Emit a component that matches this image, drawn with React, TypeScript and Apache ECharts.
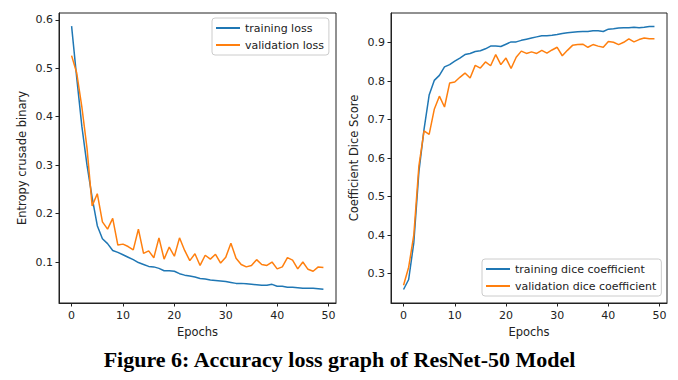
import React, { useEffect, useRef } from "react";
import * as echarts from "echarts";

const epochs: number[] = Array.from({ length: 50 }, (_, i) => i);

const trainingLoss: number[] = [
  0.587, 0.48, 0.38, 0.3, 0.233, 0.175, 0.148, 0.138, 0.124, 0.12,
  0.115, 0.11, 0.105, 0.099, 0.095, 0.091, 0.09, 0.087, 0.082, 0.082,
  0.081, 0.076, 0.073, 0.071, 0.069, 0.066, 0.065, 0.063, 0.062, 0.061,
  0.06, 0.058, 0.056, 0.056, 0.055, 0.054, 0.053, 0.052, 0.052, 0.054,
  0.05, 0.05, 0.048, 0.048, 0.047, 0.046, 0.046, 0.046, 0.045, 0.044,
];

const validationLoss: number[] = [
  0.526, 0.49, 0.42, 0.335, 0.216, 0.241, 0.183, 0.168, 0.19, 0.135,
  0.137, 0.132, 0.125, 0.168, 0.118, 0.123, 0.109, 0.15, 0.106, 0.131,
  0.112, 0.15, 0.124, 0.103, 0.117, 0.093, 0.114, 0.106, 0.116, 0.098,
  0.11, 0.139, 0.108, 0.095, 0.09, 0.093, 0.105, 0.095, 0.093, 0.1,
  0.086, 0.09, 0.109, 0.104, 0.086, 0.1, 0.085, 0.081, 0.09, 0.089,
];

const trainingDice: number[] = [
  0.259, 0.285, 0.38, 0.565, 0.675, 0.764, 0.802, 0.815, 0.837, 0.843,
  0.852, 0.86, 0.869, 0.872, 0.877, 0.879, 0.884, 0.891, 0.891, 0.89,
  0.896, 0.902, 0.902, 0.906, 0.909, 0.912, 0.915, 0.918, 0.918, 0.919,
  0.921, 0.924, 0.926, 0.927, 0.928, 0.929, 0.929, 0.931, 0.931, 0.929,
  0.935, 0.936, 0.938, 0.939, 0.939, 0.94, 0.939, 0.94, 0.942, 0.942,
];

const validationDice: number[] = [
  0.27, 0.317, 0.4, 0.58, 0.671, 0.662, 0.727, 0.761, 0.733, 0.795,
  0.798, 0.81, 0.821, 0.808, 0.841, 0.834, 0.85, 0.84, 0.869, 0.843,
  0.86, 0.833, 0.862, 0.878, 0.872, 0.876, 0.872, 0.88, 0.873, 0.881,
  0.888, 0.866, 0.88, 0.893, 0.895, 0.896, 0.888, 0.895, 0.891, 0.888,
  0.903, 0.901, 0.895, 0.901, 0.91, 0.902, 0.908, 0.912, 0.91, 0.91,
];

const xTicks: number[] = [0, 10, 20, 30, 40, 50];
const lossTicks: number[] = [0.1, 0.2, 0.3, 0.4, 0.5, 0.6];
const diceTicks: number[] = [0.3, 0.4, 0.5, 0.6, 0.7, 0.8, 0.9];

const BLUE = "#1f77b4";
const ORANGE = "#ff7f0e";
const AXIS = "#222";
const FONT = "DejaVu Sans";

function pairs(vals: number[]): number[][] {
  return epochs.map((e, i) => [e, vals[i]]);
}

function xAxisCfg(gridIndex: number) {
  return {
    type: "value",
    gridIndex,
    min: -2.45,
    max: 51.45,
    name: "Epochs",
    nameLocation: "middle",
    nameGap: 22,
    nameTextStyle: { fontFamily: FONT, fontSize: 11.5, color: AXIS },
    axisLine: { show: true, onZero: false, lineStyle: { color: AXIS, width: 1 } },
    axisTick: {
      show: true,
      length: 3.5,
      customValues: xTicks,
      lineStyle: { color: AXIS, width: 1 },
    },
    axisLabel: {
      customValues: xTicks,
      margin: 7,
      fontFamily: FONT,
      fontSize: 11,
      color: AXIS,
    },
    splitLine: { show: false },
  };
}

function yAxisCfg(gridIndex: number, name: string, min: number, max: number, ticks: number[]) {
  return {
    type: "value",
    gridIndex,
    min,
    max,
    name,
    nameLocation: "middle",
    nameGap: 31,
    nameTextStyle: { fontFamily: FONT, fontSize: 11.5, color: AXIS },
    axisLine: { show: true, onZero: false, lineStyle: { color: AXIS, width: 1 } },
    axisTick: {
      show: true,
      length: 3.5,
      customValues: ticks,
      lineStyle: { color: AXIS, width: 1 },
    },
    axisLabel: {
      customValues: ticks,
      margin: 6,
      fontFamily: FONT,
      fontSize: 11,
      color: AXIS,
      formatter: (v: number) => v.toFixed(1),
    },
    splitLine: { show: false },
  };
}

function legendCfg(names: string[], left: number, top: number) {
  return {
    data: names,
    orient: "vertical",
    left,
    top,
    icon: "rect",
    itemWidth: 24,
    itemHeight: 2,
    itemGap: 5,
    padding: [4, 5, 4, 4],
    borderColor: "#cccccc",
    borderWidth: 1,
    borderRadius: 3,
    backgroundColor: "rgba(255,255,255,0.8)",
    textStyle: { fontFamily: FONT, fontSize: 11, color: AXIS, lineHeight: 12 },
    selectedMode: false,
  };
}

function lineSeries(name: string, vals: number[], color: string, idx: number) {
  return {
    type: "line",
    name,
    xAxisIndex: idx,
    yAxisIndex: idx,
    data: pairs(vals),
    symbol: "none",
    showSymbol: false,
    lineStyle: { color, width: 1.5 },
    itemStyle: { color },
    z: name.startsWith("training") ? 2 : 3,
  };
}

export default function App() {
  const ref = useRef<HTMLDivElement>(null);
  useEffect(() => {
    if (!ref.current) return;
    const chart = echarts.init(ref.current, undefined, { renderer: "svg" });
    chart.setOption({
      animation: false,
      backgroundColor: "#ffffff",
      grid: [
        { left: 59, top: 13, width: 277, height: 290, show: true, borderColor: AXIS, borderWidth: 1, backgroundColor: "transparent" },
        { left: 391, top: 13, width: 276, height: 290, show: true, borderColor: AXIS, borderWidth: 1, backgroundColor: "transparent" },
      ],
      xAxis: [xAxisCfg(0), xAxisCfg(1)],
      yAxis: [
        yAxisCfg(0, "Entropy crusade binary", 0.0155, 0.614, lossTicks),
        yAxisCfg(1, "Coefficient Dice Score", 0.224, 0.977, diceTicks),
      ],
      legend: [
        legendCfg(["training loss", "validation loss"], 212, 18),
        legendCfg(["training dice coefficient", "validation dice coefficient"], 482, 259),
      ],
      series: [
        lineSeries("training loss", trainingLoss, BLUE, 0),
        lineSeries("validation loss", validationLoss, ORANGE, 0),
        lineSeries("training dice coefficient", trainingDice, BLUE, 1),
        lineSeries("validation dice coefficient", validationDice, ORANGE, 1),
      ],
      graphic: [
        {
          type: "text",
          x: 339.5,
          y: 360.5,
          scaleX: 1.1,
          style: {
            text: "Figure 6: Accuracy loss graph of ResNet-50 Model",
            font: "bold 20px 'Liberation Serif', 'Times New Roman', serif",
            fill: "#000",
            align: "center",
            verticalAlign: "middle",
          },
        },
      ],
    });
    return () => chart.dispose();
  }, []);
  return (
    <div
      ref={ref}
      style={{ position: "fixed", left: 0, top: 0, width: 678, height: 380 }}
    />
  );
}
